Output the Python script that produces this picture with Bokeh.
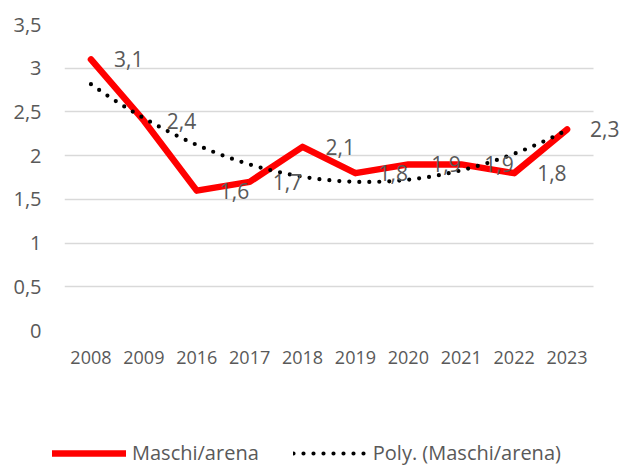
import numpy as np
from bokeh.plotting import figure
from bokeh.layouts import column
from bokeh.models import Range1d, FixedTicker, Legend, LegendItem, ColumnDataSource
from bokeh.core.properties import value
from bokeh.embed import file_html
from bokeh.resources import INLINE

# --- data ---
years = ["2008", "2009", "2016", "2017", "2018", "2019", "2020", "2021", "2022", "2023"]
maschi_arena = [3.1, 2.4, 1.6, 1.7, 2.1, 1.8, 1.9, 1.9, 1.8, 2.3]
y_ticks = [0, 0.5, 1, 1.5, 2, 2.5, 3, 3.5]
series_name = "Maschi/arena"
trend_name = "Poly. (Maschi/arena)"
trend_order = 2

FONT = "Open Sans"
TXT = "#595959"
RED = "#ff0000"

xpos = list(range(1, len(years) + 1))
labels = [f"{v:.1f}".replace(".", ",") for v in maschi_arena]
src = ColumnDataSource(dict(x=xpos, y=maschi_arena, lab=labels))

# polynomial trendline (least squares fit of the series, as in the original)
coef = np.polyfit(xpos, maschi_arena, trend_order)
tx = np.linspace(1, len(years), 200)
ty = np.polyval(coef, tx)

line_style = dict(line_color=RED, line_width=6.5, line_cap="round", line_join="round")
trend_style = dict(line_color="black", line_width=4.2, line_dash="0 10", line_cap="round")

# category slots span 0.5 .. n+0.5; the frame extends a little further right
# so that the last data label is not clipped
x_lo, x_hi = 0.5, len(years) + 0.5
frame_w = 556
slot_w = 529 / len(years)
p = figure(width=623, height=400,
           x_range=Range1d(x_lo, x_lo + frame_w / slot_w), y_range=Range1d(0, 3.5),
           output_backend="svg", toolbar_location=None,
           min_border_left=64, min_border_right=623 - 64 - frame_w,
           min_border_top=24, min_border_bottom=70)
p.outline_line_color = None
p.background_fill_color = "white"
p.border_fill_color = "white"

p.xgrid.visible = False
try:
    p.ygrid.cross_bounds = (x_lo, x_hi)
    p.ygrid.grid_line_color = "#d9d9d9"
    p.ygrid.grid_line_width = 1.5
except AttributeError:
    p.ygrid.visible = False
    p.segment(x0=[x_lo] * len(y_ticks), x1=[x_hi] * len(y_ticks), y0=y_ticks, y1=y_ticks,
              line_color="#d9d9d9", line_width=1.5)

for ax in (p.xaxis[0], p.yaxis[0]):
    ax.axis_line_color = None
    ax.major_tick_line_color = None
    ax.minor_tick_line_color = None
    ax.major_label_text_font = FONT
    ax.major_label_text_color = TXT

p.xaxis.ticker = FixedTicker(ticks=xpos)
p.xaxis.major_label_overrides = {i: y for i, y in zip(xpos, years)}
p.xaxis.major_label_text_font_size = "18px"
p.xaxis.major_label_standoff = 14

p.yaxis.ticker = FixedTicker(ticks=y_ticks)
p.yaxis.major_label_overrides = {t: (f"{t:g}".replace(".", ",")) for t in y_ticks}
p.yaxis.major_label_text_font_size = "20px"
p.yaxis.major_label_standoff = 17

p.line("x", "y", source=src, **line_style)
p.line(tx, ty, **trend_style)

p.text("x", "y", text="lab", source=src, x_offset=23, text_baseline="middle",
       text_align="left", text_font=value(FONT), text_font_size="21px", text_color=TXT)

# legend strip below the chart (its own renderers lie outside its visible ranges)
lf = figure(width=623, height=66, x_range=Range1d(-2, -1), y_range=Range1d(-2, -1),
            output_backend="svg", toolbar_location=None,
            x_axis_type=None, y_axis_type=None,
            min_border_left=0, min_border_right=0, min_border_top=0, min_border_bottom=0)
for fig in (p, lf):
    try:
        fig.frame_align = False
    except AttributeError:
        pass
lf.outline_line_color = None
lf.grid.visible = False
lf.background_fill_color = "white"
lf.border_fill_color = "white"
lr1 = lf.line(xpos, maschi_arena, **line_style)
lr2 = lf.line(tx, ty, **trend_style)

legend = Legend(items=[LegendItem(label=series_name, renderers=[lr1]),
                       LegendItem(label=trend_name, renderers=[lr2])],
                location=(52, 0), orientation="horizontal",
                glyph_width=74, glyph_height=22, label_height=22,
                label_standoff=6, spacing=34, padding=0, margin=0,
                border_line_color=None, background_fill_alpha=0,
                label_text_font=FONT, label_text_font_size="20px",
                label_text_color=TXT)
lf.add_layout(legend, "center")

open("out.html", "w").write(file_html(column(p, lf, spacing=0), INLINE))
